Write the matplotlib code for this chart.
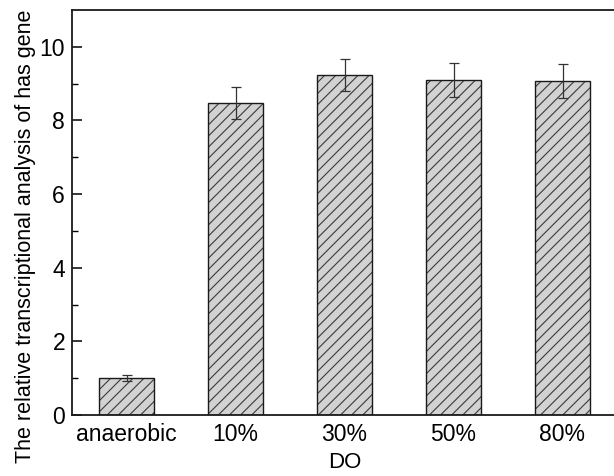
import matplotlib
matplotlib.use("Agg")
import matplotlib.pyplot as plt
import numpy as np

categories = ["anaerobic", "10%", "30%", "50%", "80%"]
values = [1.0, 8.47, 9.23, 9.10, 9.07]
errors = [0.09, 0.43, 0.44, 0.47, 0.46]

plt.rcParams['font.family'] = ['Liberation Sans', 'DejaVu Sans']
plt.rcParams['hatch.linewidth'] = 0.8
plt.rcParams['hatch.color'] = '#3a3a3a'

fig = plt.figure(figsize=(6.14, 4.76), dpi=100)
ax = fig.add_axes([72/614, 61/476, 545/614, 405/476])

x = np.arange(len(categories))
ax.bar(x, values, width=0.5, color='#d2d2d2', edgecolor='#3a3a3a', linewidth=0, hatch='///', zorder=2)
ax.bar(x, values, width=0.5, color='none', edgecolor='#1a1a1a', linewidth=1.0, zorder=3)
ax.errorbar(x, values, yerr=errors, fmt='none', ecolor='#333333', elinewidth=0.9,
            capsize=3.5, capthick=0.9, zorder=4)

ax.set_xlim(-0.5, 4.5)
ax.set_ylim(0, 11)
ax.set_xticks(x)
ax.set_xticklabels(categories)
ax.set_yticks([0, 2, 4, 6, 8, 10])
ax.set_yticks([1, 3, 5, 7, 9], minor=True)
ax.tick_params(axis='y', which='major', direction='in', length=7, width=1.1, labelsize=16.5, pad=5)
ax.tick_params(axis='y', which='minor', direction='in', length=4, width=1.0)
ax.tick_params(axis='x', which='both', length=0, labelsize=16.5, pad=6)
for s in ax.spines.values():
    s.set_linewidth(1.3)
    s.set_color('#1a1a1a')

ax.set_xlabel("DO", fontsize=16, labelpad=4)
ax.set_ylabel("The relative transcriptional analysis of has gene", fontsize=15.5)
ax.yaxis.set_label_coords(-0.066, 0.442)

fig.savefig("out.png", dpi=100)
